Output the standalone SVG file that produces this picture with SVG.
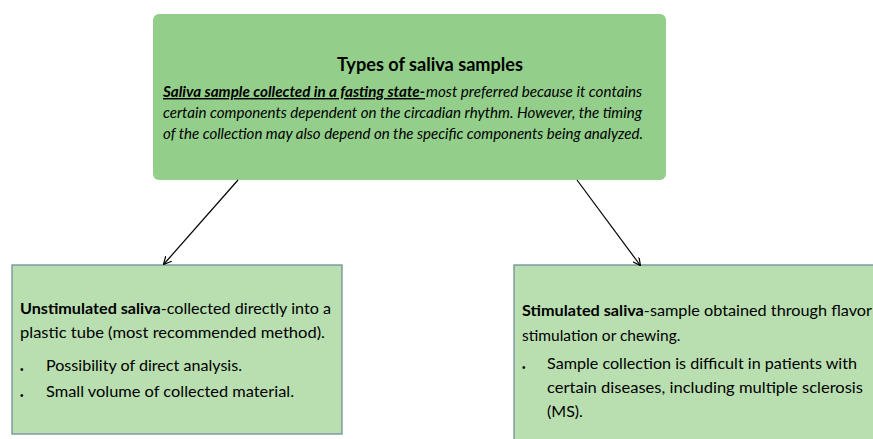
<svg xmlns="http://www.w3.org/2000/svg" width="873" height="439" viewBox="0 0 873 439">
<style>
.t{font-family:Lato,"Liberation Sans",sans-serif;fill:#000}
.b{font-weight:bold}
.i{font-style:italic}
.dot{font-family:"Liberation Sans",sans-serif;font-size:10px;fill:#000}
.box{fill:#b9dfb1;stroke:#6f8f98;stroke-width:1.3}
.c{stroke:#000;stroke-width:1.2;fill:none}
</style>
<defs>
<marker id="ah" viewBox="0 0 10 10" refX="9" refY="5" markerWidth="8" markerHeight="8" orient="auto" markerUnits="userSpaceOnUse">
<path d="M0,0 L10,5 L0,10" fill="none" stroke="#000" stroke-width="1.5"/>
</marker>
</defs>
<rect width="873" height="439" fill="#fff"/>
<g id="top">
<rect x="153" y="14" width="513" height="166" rx="6" fill="#93cf8b"/>
<text class="t b" x="337" y="71" font-size="19" textLength="186" lengthAdjust="spacingAndGlyphs">Types of saliva samples</text>
<text class="t b i" x="163" y="97" font-size="14.5" textLength="262" lengthAdjust="spacingAndGlyphs" text-decoration="underline">Saliva sample collected in a fasting state-</text>
<text class="t i" x="426" y="97" font-size="14.5" textLength="216" lengthAdjust="spacingAndGlyphs">most preferred because it contains</text>
<text class="t i" x="163" y="118" font-size="14.5" textLength="479" lengthAdjust="spacingAndGlyphs">certain components dependent on the circadian rhythm. However, the timing</text>
<text class="t i" x="163" y="139" font-size="14.5" textLength="480" lengthAdjust="spacingAndGlyphs">of the collection may also depend on the specific components being analyzed.</text>
</g>
<g id="left">
<rect class="box" x="12" y="265" width="330" height="169"/>
<text class="t" x="20" y="314" font-size="16" textLength="311" lengthAdjust="spacingAndGlyphs"><tspan class="b">Unstimulated saliva</tspan>-collected directly into a</text>
<text class="t" x="20" y="338" font-size="16" textLength="305" lengthAdjust="spacingAndGlyphs">plastic tube (most recommended method).</text>
<text class="dot" x="20" y="373">•</text>
<text class="t" x="46" y="371" font-size="16" textLength="196" lengthAdjust="spacingAndGlyphs">Possibility of direct analysis.</text>
<text class="dot" x="20" y="399">•</text>
<text class="t" x="46" y="397" font-size="16" textLength="248" lengthAdjust="spacingAndGlyphs">Small volume of collected material.</text>
</g>
<g id="right">
<rect class="box" x="514" y="265" width="400" height="200"/>
<text class="t" x="522" y="316" font-size="16" textLength="350" lengthAdjust="spacingAndGlyphs"><tspan class="b">Stimulated saliva</tspan>-sample obtained through flavor</text>
<text class="t" x="522" y="341" font-size="15.5">stimulation or chewing.</text>
<text class="dot" x="522" y="371">•</text>
<text class="t" x="547" y="369" font-size="16" textLength="310" lengthAdjust="spacingAndGlyphs">Sample collection is difficult in patients with</text>
<text class="t" x="547" y="393" font-size="16" textLength="316" lengthAdjust="spacingAndGlyphs">certain diseases, including multiple sclerosis</text>
<text class="t" x="547" y="417" font-size="16">(MS).</text>
</g>
<g id="connectors">
<line class="c" x1="238" y1="180" x2="164" y2="264" marker-end="url(#ah)"/>
<line class="c" x1="577" y1="180" x2="640" y2="265" marker-end="url(#ah)"/>
</g>
</svg>
